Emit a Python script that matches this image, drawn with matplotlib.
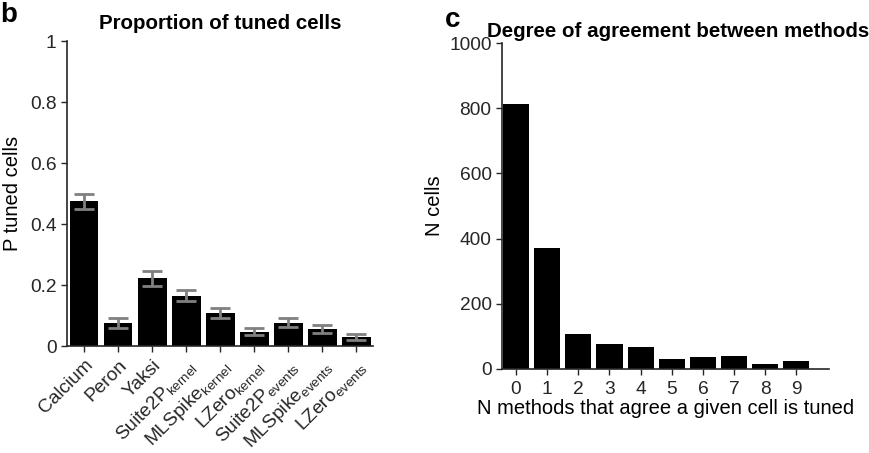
import matplotlib
matplotlib.use("Agg")
import matplotlib.pyplot as plt
import numpy as np

plt.rcParams['font.family'] = ['Liberation Sans', 'DejaVu Sans']
plt.rcParams['mathtext.fontset'] = 'custom'
plt.rcParams['mathtext.rm'] = 'Liberation Sans'
plt.rcParams['mathtext.it'] = 'Liberation Sans'
plt.rcParams['mathtext.bf'] = 'Liberation Sans:bold'

methods = ["Calcium", "Peron", "Yaksi",
           r"Suite2P$_{\mathrm{kernel}}$", r"MLSpike$_{\mathrm{kernel}}$", r"LZero$_{\mathrm{kernel}}$",
           r"Suite2P$_{\mathrm{events}}$", r"MLSpike$_{\mathrm{events}}$", r"LZero$_{\mathrm{events}}$"]
p_tuned = [0.475, 0.075, 0.222, 0.165, 0.109, 0.047, 0.076, 0.055, 0.030]
p_err = [0.024, 0.016, 0.024, 0.018, 0.017, 0.011, 0.015, 0.013, 0.010]

n_agree = list(range(10))
n_cells = [813, 371, 106, 75, 66, 29, 36, 39, 14, 23]

fig = plt.figure(figsize=(8.7, 4.53), dpi=100)

tick_fs = 13.8
lab_fs = 14.5
title_fs = 14.8

# Panel b
ax1 = fig.add_axes([0.077, 0.236, 0.352, 0.673])
x = np.arange(1, len(methods) + 1)
ax1.bar(x, p_tuned, width=0.85, color='black')
ax1.errorbar(x, p_tuned, yerr=p_err, fmt='none', ecolor='#808080', elinewidth=2,
             capsize=7.5, capthick=2)
ax1.set_xlim(0.5, 9.5)
ax1.set_ylim(0, 1)
ax1.set_yticks([0, 0.2, 0.4, 0.6, 0.8, 1])
ax1.set_yticklabels(['0', '0.2', '0.4', '0.6', '0.8', '1'])
ax1.set_xticks(x)
ax1.set_xticklabels(methods, rotation=45, ha='right', rotation_mode='anchor')
ax1.set_ylabel('P tuned cells', fontsize=lab_fs, labelpad=6)
ax1.set_title('Proportion of tuned cells', fontsize=title_fs, fontweight='bold', pad=9)

# Panel c
ax2 = fig.add_axes([0.577, 0.1865, 0.376, 0.7175])
ax2.bar(n_agree, n_cells, width=0.84, color='black')
ax2.set_xlim(-0.45, 10.05)
ax2.set_ylim(0, 1000)
ax2.set_yticks([0, 200, 400, 600, 800, 1000])
ax2.set_xticks(n_agree)
ax2.set_ylabel('N cells', fontsize=lab_fs, labelpad=4)
ax2.set_xlabel('N methods that agree a given cell is tuned', fontsize=lab_fs, labelpad=1)
ax2.set_title('Degree of agreement between methods', fontsize=title_fs, fontweight='bold',
              pad=5, x=0.538)

for ax in (ax1, ax2):
    for s in ('top', 'right'):
        ax.spines[s].set_visible(False)
    for s in ('left', 'bottom'):
        ax.spines[s].set_linewidth(1.2)
        ax.spines[s].set_color('#262626')
    ax.tick_params(direction='out', length=4, width=1.0, labelsize=tick_fs,
                   colors='#262626', labelcolor='#262626')
ax2.tick_params(axis='x', pad=5)

fig.text(0.0, 0.995, 'b', fontsize=20, fontweight='bold', va='top', ha='left')
fig.text(0.511, 0.985, 'c', fontsize=20, fontweight='bold', va='top', ha='left')

fig.savefig('out.png', dpi=100)
